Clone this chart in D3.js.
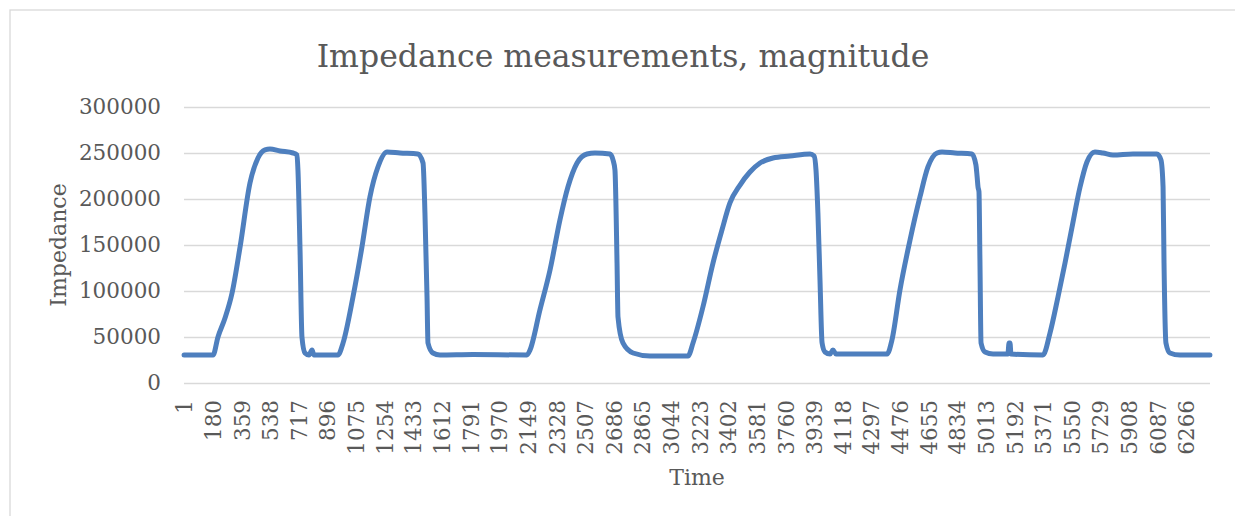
<!DOCTYPE html>
<html>
<head>
<meta charset="utf-8">
<script src="https://cdn.jsdelivr.net/npm/d3@7"></script>
<style>
  html, body { margin: 0; padding: 0; background: #fff; }
  svg { display: block; }
  text { font-family: "DejaVu Serif", "Liberation Serif", serif; fill: #595959; }
</style>
</head>
<body>
<svg id="chart" width="1235" height="516"></svg>
<script>
// Impedance magnitude readings over time (sample index -> ohms)
const sampleCount = 6415;
const time = [
  1, 182, 213, 257, 301, 351, 413, 463, 507, 538, 601, 682, 707, 713, 726, 738, 757, 782, 801, 813,
  963, 995, 1057, 1113, 1163, 1213, 1270, 1351, 1463, 1495, 1507, 1520, 1526, 1557, 1601,
  1807, 2145, 2164, 2226, 2289, 2351, 2401, 2458, 2520, 2570, 2664, 2683, 2695, 2708, 2714, 2745, 2808, 2914,
  3152, 3183, 3245, 3308, 3364, 3414, 3477, 3539, 3602, 3683, 3789, 3915, 3940, 3952, 3964, 3977, 3990, 4008, 4040, 4058, 4077,
  4396, 4427, 4477, 4540, 4602, 4652, 4709, 4740, 4821, 4927, 4952, 4959, 4965, 4971, 4977, 4984, 5009, 5059,
  5152, 5159, 5165, 5171, 5371,
  5415, 5465, 5509, 5553, 5603, 5646, 5696, 5746, 5809, 5934, 6084, 6109, 6122, 6128, 6140, 6165, 6228, 6415
];
const impedance = [
  30400, 30400, 50000, 70600, 97800, 147800, 217400, 244600, 253300, 254300, 252200, 250000, 247800, 231500, 144600, 50000, 32600, 30400, 35900, 30400,
  30400, 43500, 93500, 147800, 202200, 234800, 251100, 250000, 248900, 239100, 184800, 93500, 43500, 32600, 30400,
  30900, 30400, 35900, 79400, 122800, 177200, 213000, 239100, 248900, 250000, 248900, 242400, 231500, 130400, 71700, 43500, 32600, 29300,
  29300, 43500, 82600, 130400, 166300, 195700, 215200, 229300, 239100, 244600, 246700, 248900, 246700, 231500, 184800, 112000, 43500, 33700, 31500, 35900, 31500,
  31500, 46700, 101100, 155400, 202200, 234800, 250000, 251100, 250000, 248900, 237000, 225000, 213000, 208000, 133700, 43500, 33700, 31500,
  31500, 43500, 43500, 31500, 30400,
  54300, 93500, 130400, 169600, 213000, 240200, 251100, 250000, 247800, 248900, 248900, 242400, 213000, 130400, 43500, 32600, 30400, 30400
];
const yTicks = [0, 50000, 100000, 150000, 200000, 250000, 300000];
const xTickLabels = [
  1, 180, 359, 538, 717, 896, 1075, 1254, 1433, 1612, 1791, 1970, 2149, 2328, 2507, 2686, 2865, 3044,
  3223, 3402, 3581, 3760, 3939, 4118, 4297, 4476, 4655, 4834, 5013, 5192, 5371, 5550, 5729, 5908, 6087, 6266
];
const series = time.map((t, i) => ({ t, v: impedance[i] }));

const svg = d3.select("#chart");
const plot = { left: 184, right: 1210, top: 107, bottom: 383 };

// chart frame
svg.append("rect")
  .attr("x", 10).attr("y", 10)
  .attr("width", 1240).attr("height", 520)
  .attr("fill", "#fff").attr("stroke", "#d9d9d9").attr("stroke-width", 1.3);

const x = d3.scaleLinear().domain([0.5, sampleCount + 0.5]).range([plot.left, plot.right]);
const y = d3.scaleLinear().domain([0, 300000]).range([plot.bottom, plot.top]);

// value axis with horizontal gridlines
const yAxis = svg.append("g")
  .attr("transform", `translate(${plot.left},0)`)
  .call(d3.axisLeft(y).tickValues(yTicks).tickSize(-(plot.right - plot.left)).tickPadding(23).tickFormat(d3.format("d")));
yAxis.select(".domain").remove();
yAxis.selectAll(".tick line").attr("stroke", "#d9d9d9").attr("stroke-width", 1.5);
yAxis.selectAll(".tick text")
  .style("font-family", "DejaVu Serif").style("font-size", "21.5px").attr("fill", "#595959");

// category axis, labels turned vertical
const xAxis = svg.append("g")
  .attr("transform", `translate(0,${plot.bottom})`)
  .call(d3.axisBottom(x).tickValues(xTickLabels).tickSize(0).tickFormat(d3.format("d")));
xAxis.select(".domain").remove();
xAxis.selectAll(".tick text")
  .attr("transform", "rotate(-90)")
  .attr("text-anchor", "end")
  .attr("x", -17).attr("y", 0).attr("dy", "0.36em")
  .style("font-family", "DejaVu Serif").style("font-size", "21.5px").attr("fill", "#595959");

// measurement trace
svg.append("path")
  .datum(series)
  .attr("fill", "none")
  .attr("stroke", "#4e7fbe")
  .attr("stroke-width", 5)
  .attr("stroke-linejoin", "round")
  .attr("stroke-linecap", "round")
  .attr("d", d3.line().x(d => x(d.t)).y(d => y(d.v)).curve(d3.curveMonotoneX));

// titles
svg.append("text")
  .attr("x", 623).attr("y", 67)
  .attr("text-anchor", "middle")
  .style("font-size", "31.5px")
  .text("Impedance measurements, magnitude");

svg.append("text")
  .attr("x", (plot.left + plot.right) / 2).attr("y", 485)
  .attr("text-anchor", "middle")
  .style("font-size", "22px")
  .text("Time");

svg.append("text")
  .attr("transform", `translate(66,${(plot.top + plot.bottom) / 2}) rotate(-90)`)
  .attr("text-anchor", "middle")
  .style("font-size", "22px")
  .text("Impedance");
</script>
</body>
</html>
